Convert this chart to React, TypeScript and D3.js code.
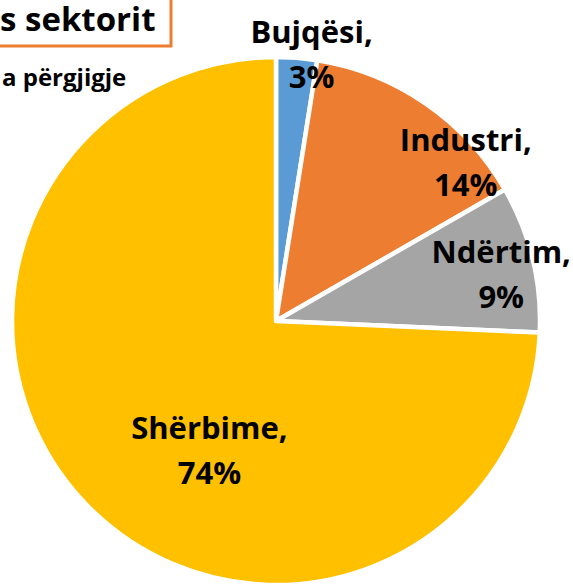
import React, { useEffect, useRef } from 'react';
import * as d3 from 'd3';

// sector shares (percent of answers)
const categories = ['Bujqësi', 'Industri', 'Ndërtim', 'Shërbime'];
const shares = [2.5, 14.2, 9.0, 74.3];
const percentLabels = ['3%', '14%', '9%', '74%'];
const colors = ['#5B9BD5', '#ED7D31', '#A5A5A5', '#FFC000'];
// how far each label is pushed from its slice's label point
const labelNudge = [[19, -56], [70, 15], [20, 3], [86, -17]];

const titleText = 's sektorit';
const subtitleText = 'a përgjigje';

const W = 573;
const H = 587;

const drawChart = (element: SVGSVGElement) => {
	const svg = d3.select(element);
	svg.selectAll('*').remove();

	const cx = 276;
	const cy = 321;
	const radius = 264;
	const font = '"Open Sans", sans-serif';

	const data = categories.map((name, i) => ({ name, value: shares[i], label: percentLabels[i], color: colors[i] }));

	const pie = d3.pie<any>().sort(null).value((d) => d.value);
	const arc = d3.arc<any>().innerRadius(0).outerRadius(radius);
	const labelArc = d3.arc<any>().innerRadius(radius * 0.8).outerRadius(radius * 0.8);

	const g = svg.append('g').attr('transform', `translate(${cx}, ${cy})`);
	const arcs = pie(data);

	g.selectAll('path')
		.data(arcs)
		.enter()
		.append('path')
		.attr('d', arc)
		.style('fill', (d) => d.data.color)
		.style('stroke', '#fff')
		.style('stroke-width', 4.5)
		.style('stroke-linejoin', 'round');

	const labels = g.selectAll('g.lbl')
		.data(arcs)
		.enter()
		.append('g')
		.attr('class', 'lbl')
		.attr('transform', (d, i) => {
			const [x, y] = labelArc.centroid(d);
			return `translate(${x + labelNudge[i][0]}, ${y + labelNudge[i][1]})`;
		});

	labels.append('text')
		.attr('text-anchor', 'middle')
		.attr('y', -11)
		.style('font-family', font)
		.style('font-weight', 700)
		.style('font-size', '31px')
		.style('fill', '#000')
		.text((d) => `${d.data.name},`);

	labels.append('text')
		.attr('text-anchor', 'middle')
		.attr('y', 34)
		.style('font-family', font)
		.style('font-weight', 700)
		.style('font-size', '31px')
		.style('fill', '#000')
		.text((d) => d.data.label);

	// title box, cut by the top-left edge as in the source
	svg.append('rect')
		.attr('x', -20)
		.attr('y', -20)
		.attr('width', 191)
		.attr('height', 66)
		.style('fill', '#fff')
		.style('stroke', '#ED7D31')
		.style('stroke-width', 3);

	svg.append('text')
		.attr('x', 0)
		.attr('y', 31)
		.style('font-family', font)
		.style('font-weight', 700)
		.style('font-size', '33px')
		.style('fill', '#000')
		.text(titleText);

	svg.append('text')
		.attr('x', 2)
		.attr('y', 86)
		.style('font-family', font)
		.style('font-weight', 700)
		.style('font-size', '24px')
		.style('fill', '#000')
		.text(subtitleText);
};

export default function App() {
	const ref = useRef<SVGSVGElement>(null);

	useEffect(() => {
		if (ref.current) {
			drawChart(ref.current);
		}
	}, []);

	return (
		<svg
			ref={ref}
			width={W}
			height={H}
			style={{ position: 'absolute', left: 0, top: 0, background: '#fff' }}
		/>
	);
}
